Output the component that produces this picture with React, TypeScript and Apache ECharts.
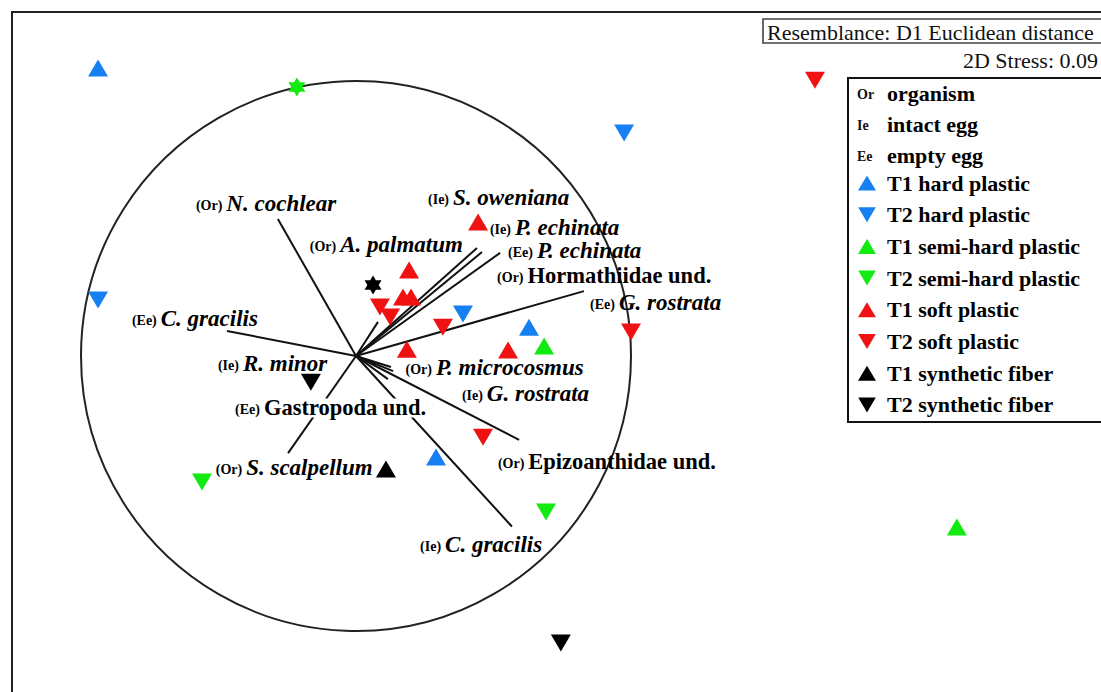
import React, { useEffect, useRef } from "react";
import * as echarts from "echarts";

// ---- ordination scores (MDS space; correlation circle radius = 1) ----
const t1Hard = [[-0.938, 1.047], [0.629, 0.105], [0.291, -0.367]];
const t2Hard = [[0.975, 0.811], [-0.938, 0.204], [0.389, 0.153]];
const t1Semi = [[0.684, 0.036], [2.185, -0.622]];
const t2Semi = [[-0.56, -0.458], [0.691, -0.567]];
const t1Soft = [[0.444, 0.487], [0.193, 0.313], [0.171, 0.215], [0.2, 0.215], [0.185, 0.025], [0.553, 0.022]];
const t2Soft = [[1.669, 1.003], [1.0, 0.087], [0.087, 0.178], [0.124, 0.142], [0.316, 0.105], [0.462, -0.295]];
const t1Fiber = [[0.109, -0.411]];
const t2Fiber = [[-0.164, -0.095], [0.745, -1.044]];
const starBlack = [[0.062, 0.258]];
const starGreen = [[-0.215, 0.978]];

// correlation circle
const circle = [[0, 0, 1]];

// vector (loading) end points
const vectors = [
  [-0.284, 0.498],
  [-0.469, 0.091],
  [0.44, 0.393],
  [0.458, 0.378],
  [0.524, 0.375],
  [0.08, 0.124],
  [0.829, 0.236],
  [0.127, -0.04],
  [0.135, -0.055],
  [0.116, -0.084],
  [0.593, -0.305],
  [0.567, -0.62],
  [-0.247, -0.353],
];

// vector labels: [x, y] anchor (left edge, middle), tag, name, italic
const labelTags = ["Or", "Ie", "Ie", "Or", "Ee", "Or", "Ee", "Ee", "Ie", "Or", "Ie", "Ee", "Or", "Or", "Ie"];
const labelNames = [
  "N. cochlear", "S. oweniana", "P. echinata", "A. palmatum", "P. echinata",
  "Hormathiidae und.", "G. rostrata", "C. gracilis", "R. minor", "P. microcosmus",
  "G. rostrata", "Gastropoda und.", "Epizoanthidae und.", "S. scalpellum", "C. gracilis",
];
const labelItalic = [true, true, true, true, true, false, true, true, true, true, true, false, false, true, true];
const labelPos = [
  [-0.582, 0.553], [0.262, 0.578], [0.487, 0.466], [-0.168, 0.407], [0.553, 0.382],
  [0.513, 0.291], [0.851, 0.196], [-0.815, 0.138], [-0.502, -0.029], [0.18, -0.04],
  [0.385, -0.135], [-0.44, -0.189], [0.516, -0.382], [-0.51, -0.407], [0.233, -0.687],
];

const legendText = [
  ["Or", "organism"],
  ["Ie", "intact egg"],
  ["Ee", "empty egg"],
];

const seriesNames = [
  "T1 hard plastic", "T2 hard plastic", "T1 semi-hard plastic", "T2 semi-hard plastic",
  "T1 soft plastic", "T2 soft plastic", "T1 synthetic fiber", "T2 synthetic fiber",
];

const BLUE = "#1680f2";
const GREEN = "#12ea12";
const RED = "#f01212";
const BLACK = "#000000";
const SERIF = '"Liberation Serif", "Times New Roman", serif';
const UP = "triangle";
const DOWN = "path://M0,0L20,0L10,17Z";
const STAR =
  "path://M10,0L12.887,5L18.66,5L15.774,10L18.66,15L12.887,15L10,20L7.113,15L1.34,15L4.226,10L1.34,5L7.113,5Z";

function scatter(name: string, data: number[][], symbol: string, color: string, size: any = [20, 17]) {
  return {
    name,
    type: "scatter",
    data,
    symbol,
    symbolSize: size,
    itemStyle: { color, opacity: 1 },
    z: 5,
    silent: true,
  };
}

function buildOption() {
  const labelData = labelNames.map((n, i) => {
    const item: any = {
      value: labelPos[i],
      tag: labelTags[i],
      text: n,
      italic: labelItalic[i],
    };
    if (n.indexOf("Gastropoda") === 0) {
      item.label = { backgroundColor: "#fff" };
    }
    return item;
  });
  const graphic: any[] = [
    {
      type: "polyline",
      shape: { points: [[12, 692], [12, 12], [1101, 12]] },
      style: { fill: null, stroke: "#222", lineWidth: 2 },
      z: 10,
    },
    {
      type: "rect",
      shape: { x: 763, y: 19, width: 360, height: 24 },
      style: { fill: "#fff", stroke: "#444", lineWidth: 1.6 },
      z: 10,
    },
    {
      type: "text",
      style: {
        text: "Resemblance: D1 Euclidean distance",
        x: 767, y: 32, font: '22px ' + SERIF, fill: "#111",
        textAlign: "left", textVerticalAlign: "middle",
      },
      z: 11,
    },
    {
      type: "text",
      style: {
        text: "2D Stress: 0.09",
        x: 1098, y: 60, font: '22px ' + SERIF, fill: "#111",
        textAlign: "right", textVerticalAlign: "middle",
      },
      z: 11,
    },
    {
      type: "rect",
      shape: { x: 848, y: 78, width: 270, height: 344 },
      style: { fill: "#fff", stroke: "#111", lineWidth: 2 },
      z: 1,
    },
  ];
  legendText.forEach((row, i) => {
    const y = 93 + i * 31;
    graphic.push({
      type: "text",
      style: { text: row[0], x: 857, y: y + 1, font: 'bold 14px ' + SERIF, fill: "#111", textAlign: "left", textVerticalAlign: "middle" },
      z: 11,
    });
    graphic.push({
      type: "text",
      style: { text: row[1], x: 887, y, font: 'bold 22px ' + SERIF, fill: "#000", textAlign: "left", textVerticalAlign: "middle" },
      z: 11,
    });
  });

  return {
    animation: false,
    backgroundColor: "#fff",
    grid: { left: 0, right: 0, top: 0, bottom: 0 },
    xAxis: { type: "value", min: -356 / 275, max: 745 / 275, show: false, splitLine: { show: false } },
    yAxis: { type: "value", min: -336 / 275, max: 356 / 275, show: false, splitLine: { show: false } },
    legend: {
      orient: "vertical",
      left: 858,
      top: 172,
      padding: 0,
      itemGap: 9.7,
      itemWidth: 18,
      itemHeight: 15,
      selectedMode: false,
      z: 20,
      textStyle: {
        fontFamily: SERIF, fontWeight: "bold", fontSize: 22, color: "#000",
        lineHeight: 22, padding: [0, 0, 0, 6],
      },
      data: seriesNames,
    },
    graphic,
    series: [
      {
        name: "circle",
        type: "custom",
        data: circle,
        clip: false,
        silent: true,
        z: 2,
        renderItem: (_p: any, api: any) => {
          const c = api.coord([api.value(0), api.value(1)]);
          const r = api.size([api.value(2), 0])[0];
          return {
            type: "circle",
            shape: { cx: c[0], cy: c[1], r },
            style: { fill: "none", stroke: "#222", lineWidth: 2 },
          };
        },
      },
      {
        name: "vectors",
        type: "custom",
        data: vectors,
        clip: false,
        silent: true,
        z: 3,
        renderItem: (_p: any, api: any) => {
          const o = api.coord([0, 0]);
          const e = api.coord([api.value(0), api.value(1)]);
          return {
            type: "line",
            shape: { x1: o[0], y1: o[1], x2: e[0], y2: e[1] },
            style: { stroke: "#111", lineWidth: 2 },
          };
        },
      },
      scatter(seriesNames[0], t1Hard, UP, BLUE),
      scatter(seriesNames[1], t2Hard, DOWN, BLUE),
      scatter(seriesNames[2], t1Semi, UP, GREEN),
      scatter(seriesNames[3], t2Semi, DOWN, GREEN),
      scatter(seriesNames[4], t1Soft, UP, RED),
      scatter(seriesNames[5], t2Soft, DOWN, RED),
      scatter(seriesNames[6], t1Fiber, UP, BLACK),
      scatter(seriesNames[7], t2Fiber, DOWN, BLACK),
      scatter("centroid", starBlack, STAR, BLACK, [17, 19]),
      scatter("centroid2", starGreen, STAR, GREEN, [17, 19]),
      {
        name: "labels",
        type: "scatter",
        data: labelData,
        symbol: "circle",
        symbolSize: 0,
        silent: true,
        z: 6,
        itemStyle: { opacity: 1, color: "#000" },
        label: {
          show: true,
          position: "right",
          distance: 0,
          color: "#000",
          opacity: 1,
          formatter: (p: any) =>
            `{p|(${p.data.tag})}{${p.data.italic ? "i" : "b"}|${p.data.text}}`,
          rich: {
            p: { fontFamily: SERIF, fontWeight: "bold", fontSize: 14, color: "#000", padding: [4, 4, 0, 0], lineHeight: 18 },
            i: { fontFamily: SERIF, fontWeight: "bold", fontStyle: "italic", fontSize: 23, color: "#000", lineHeight: 19 },
            b: { fontFamily: SERIF, fontWeight: "bold", fontSize: 22.5, color: "#000", lineHeight: 19 },
          },
        },
      },
    ],
  };
}

export default function App() {
  const ref = useRef<HTMLDivElement>(null);
  useEffect(() => {
    const chart = echarts.init(ref.current!, null, { renderer: "svg" });
    chart.setOption(buildOption() as any);
    return () => chart.dispose();
  }, []);
  return (
    <div
      ref={ref}
      style={{ position: "fixed", left: 0, top: 0, width: 1101, height: 692, background: "#fff" }}
    />
  );
}
